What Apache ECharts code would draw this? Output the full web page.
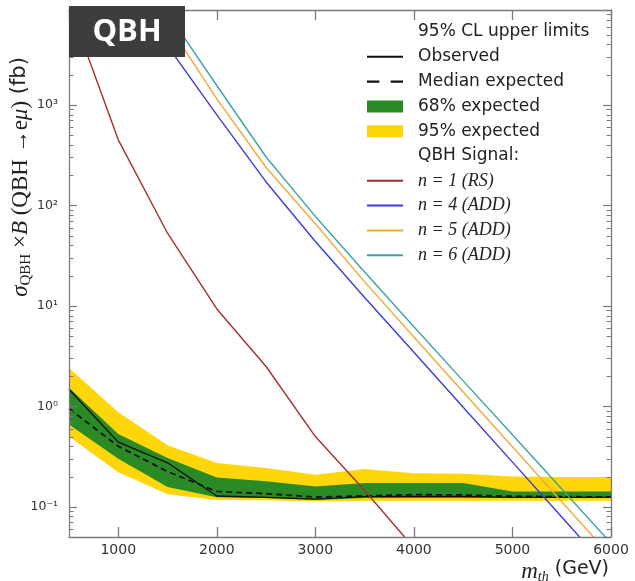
<!DOCTYPE html>
<html><head><meta charset="utf-8">
<script src="https://cdn.jsdelivr.net/npm/echarts@6/dist/echarts.min.js"></script>
<style>html,body{margin:0;padding:0;background:#fff}#c{width:635px;height:581px}</style>
</head><body><div id="c"></div>
<script>
// ---------- data ----------
const massPoints = [500, 1000, 1500, 2000, 2500, 3000, 3500, 4000, 4500, 5000, 5500, 6000];
const observed   = [1.48, 0.44, 0.274, 0.128, 0.124, 0.119, 0.126, 0.127, 0.127, 0.124, 0.124, 0.124];
const medianExp  = [0.95, 0.40, 0.224, 0.142, 0.135, 0.125, 0.128, 0.132, 0.131, 0.127, 0.126, 0.125];
const band68Lo   = [0.66, 0.30, 0.157, 0.124, 0.122, 0.117, 0.122, 0.122, 0.122, 0.122, 0.122, 0.122];
const band68Hi   = [1.53, 0.53, 0.305, 0.196, 0.179, 0.159, 0.172, 0.172, 0.172, 0.142, 0.142, 0.142];
const band95Lo   = [0.50, 0.22, 0.133, 0.117, 0.116, 0.113, 0.115, 0.115, 0.115, 0.115, 0.115, 0.115];
const band95Hi   = [2.40, 0.87, 0.41, 0.272, 0.243, 0.208, 0.237, 0.216, 0.213, 0.200, 0.198, 0.198];
const sigRS1     = [1.0e4, 449, 52.8, 9.3, 2.49, 0.50, 0.145, 0.039, 0.010, null, null, null];
const sigADD4    = [1.3e5, 2.2e4, 3870, 795, 171, 43.7, 12.1, 3.45, 0.98, 0.278, 0.079, 0.0224];
const sigADD5    = [2.5e5, 4.0e4, 6450, 1150, 238, 65.5, 17.3, 4.9, 1.39, 0.395, 0.112, 0.032];
const sigADD6    = [4.0e5, 6.0e4, 8200, 1560, 303, 77.6, 21.7, 6.2, 1.79, 0.52, 0.15, 0.0434];
const minorTickValues = [0.06, 0.07, 0.08, 0.09,
  0.2, 0.3, 0.4, 0.5, 0.6, 0.7, 0.8, 0.9,
  2, 3, 4, 5, 6, 7, 8, 9,
  20, 30, 40, 50, 60, 70, 80, 90,
  200, 300, 400, 500, 600, 700, 800, 900,
  2000, 3000, 4000, 5000, 6000, 7000, 8000];

// ---------- config ----------
const X_MIN = 500, X_MAX = 6000, Y_MIN = 0.05, Y_MAX = 8800;
const AXIS_COLOR = '#7a7a7a';
const C_RS = '#a3302e', C_A4 = '#3c3cd8', C_A5 = '#f3a93a', C_A6 = '#3ca4a2';
const C_G = '#2a8a26', C_Y = '#ffd60a';
const LINE_ICON = 'path://M0,0H36V2H0Z';
const DASH_ICON = 'path://M0,0H12V2H0ZM23,0H35V2H23Z';
const supMap = {'-':'\u207B','0':'\u2070','1':'\u00B9','2':'\u00B2','3':'\u00B3','4':'\u2074'};

const pair = arr => massPoints.map((x, i) => arr[i] == null ? null : [x, arr[i]]).filter(Boolean);

function bandRenderer(lo, hi, color) {
  return function (params, api) {
    const pts = [];
    massPoints.forEach((x, i) => pts.push(api.coord([x, hi[i]])));
    for (let i = massPoints.length - 1; i >= 0; i--) pts.push(api.coord([massPoints[i], lo[i]]));
    return {type: 'polygon', shape: {points: pts}, style: {fill: color}};
  };
}

function minorTickRenderer(params, api) {
  const children = [];
  minorTickValues.forEach(v => {
    const pL = api.coord([X_MIN, v]);
    const pR = api.coord([X_MAX, v]);
    const yy = Math.round(pL[1]) + 0.5;
    children.push({type: 'line', shape: {x1: pL[0], y1: yy, x2: pL[0] + 4.5, y2: yy},
      style: {stroke: AXIS_COLOR, lineWidth: 1}});
    children.push({type: 'line', shape: {x1: pR[0] - 4.5, y1: yy, x2: pR[0], y2: yy},
      style: {stroke: AXIS_COLOR, lineWidth: 1}});
  });
  return {type: 'group', children: children};
}

const mathText = {fontFamily: 'Liberation Serif', fontStyle: 'italic', fontSize: 18, color: '#222'};

const xAxisBase = {
  type: 'value', min: X_MIN, max: X_MAX, splitNumber: 5, z: 5,
  axisLine: {show: true, lineStyle: {color: AXIS_COLOR, width: 1.3}},
  axisTick: {show: true, inside: true, length: 10, lineStyle: {color: AXIS_COLOR, width: 1.3}},
  splitLine: {show: false}, minorTick: {show: false}
};
const yAxisBase = {
  type: 'log', logBase: 10, min: Y_MIN, max: Y_MAX, z: 5,
  axisLine: {show: true, lineStyle: {color: AXIS_COLOR, width: 1.3}},
  axisTick: {show: true, inside: true, length: 8, lineStyle: {color: AXIS_COLOR, width: 1.2}},
  splitLine: {show: false}, minorTick: {show: false}
};

const option = {
  animation: false,
  backgroundColor: '#fff',
  grid: {left: 69, right: 24, top: 10, bottom: 44, containLabel: false},
  xAxis: [
    Object.assign({}, xAxisBase, {position: 'bottom',
      axisLabel: {showMinLabel: false, color: '#333', fontFamily: 'DejaVu Sans', fontSize: 14, margin: 6,
        formatter: v => String(Math.round(v))}}),
    Object.assign({}, xAxisBase, {position: 'top', axisLabel: {show: false}})
  ],
  yAxis: [
    Object.assign({}, yAxisBase, {position: 'left',
      axisLabel: {showMinLabel: false, showMaxLabel: false, color: '#333', fontFamily: 'DejaVu Sans', fontSize: 12.5, margin: 11,
        formatter: v => {
          const e = Math.round(Math.log10(v));
          return '10' + String(e).split('').map(c => supMap[c]).join('');
        }}}),
    Object.assign({}, yAxisBase, {position: 'right', axisLabel: {show: false}})
  ],
  legend: {
    orient: 'vertical', left: 367, top: 22, padding: 0, itemGap: 4.8,
    itemWidth: 36, itemHeight: 12, selectedMode: false,
    itemStyle: {borderWidth: 0},
    textStyle: {fontFamily: 'DejaVu Sans', fontSize: 17, color: '#222', lineHeight: 20, padding: [0, 0, 0, 10]},
    data: [
      {name: '95% CL upper limits', icon: 'rect'},
      {name: 'Observed', icon: LINE_ICON},
      {name: 'Median expected', icon: DASH_ICON},
      {name: '68% expected', icon: 'rect'},
      {name: '95% expected', icon: 'rect'},
      {name: 'QBH Signal:', icon: 'rect'},
      {name: 'n = 1 (RS)', icon: LINE_ICON, textStyle: mathText},
      {name: 'n = 4 (ADD)', icon: LINE_ICON, textStyle: mathText},
      {name: 'n = 5 (ADD)', icon: LINE_ICON, textStyle: mathText},
      {name: 'n = 6 (ADD)', icon: LINE_ICON, textStyle: mathText}
    ]
  },
  series: [
    {name: '95% CL upper limits', type: 'line', data: [], symbol: 'none', color: 'rgba(0,0,0,0)'},
    {name: 'QBH Signal:', type: 'line', data: [], symbol: 'none', color: 'rgba(0,0,0,0)'},
    {name: '95% expected', type: 'custom', color: C_Y, silent: true, z: 1,
      renderItem: bandRenderer(band95Lo, band95Hi, C_Y), data: [[X_MIN, 1]]},
    {name: '68% expected', type: 'custom', color: C_G, silent: true, z: 1,
      renderItem: bandRenderer(band68Lo, band68Hi, C_G), data: [[X_MIN, 1]]},
    {name: 'Median expected', type: 'line', data: pair(medianExp), symbol: 'none', color: '#111',
      lineStyle: {width: 1.8, type: [6, 4]}, z: 3},
    {name: 'Observed', type: 'line', data: pair(observed), symbol: 'none', color: '#111',
      lineStyle: {width: 1.4}, z: 3},
    {name: 'n = 1 (RS)', type: 'line', data: pair(sigRS1), symbol: 'none', color: C_RS, lineStyle: {width: 1.4}, z: 4},
    {name: 'n = 4 (ADD)', type: 'line', data: pair(sigADD4), symbol: 'none', color: C_A4, lineStyle: {width: 1.4}, z: 4},
    {name: 'n = 5 (ADD)', type: 'line', data: pair(sigADD5), symbol: 'none', color: C_A5, lineStyle: {width: 1.4}, z: 4},
    {name: 'n = 6 (ADD)', type: 'line', data: pair(sigADD6), symbol: 'none', color: C_A6, lineStyle: {width: 1.4}, z: 4},
    {name: 'minorTicks', type: 'custom', silent: true, z: 6, data: [[X_MIN, 1]], renderItem: minorTickRenderer}
  ],
  graphic: [
    {type: 'rect', z: 100, shape: {x: 69, y: 6, width: 116, height: 51}, style: {fill: '#3d3d3d'}},
    {type: 'text', z: 101, x: 127, y: 32,
      style: {text: 'QBH', fill: '#fff', font: 'bold 31px "Open Sans"', align: 'center', verticalAlign: 'middle'}},
    {type: 'text', z: 10, x: 20, y: 177, rotation: Math.PI / 2,
      style: {
        text: '{s|σ}{sub|QBH}{m| ×}{s|B}{m| (QBH →e}{s|μ}{m|)}{f| (fb)}',
        align: 'center', verticalAlign: 'middle', fill: '#222',
        rich: {
          s: {fontFamily: 'Liberation Serif', fontStyle: 'italic', fontSize: 23, lineHeight: 22, verticalAlign: 'top', fill: '#222'},
          m: {fontFamily: 'Liberation Serif', fontSize: 23, lineHeight: 22, verticalAlign: 'top', fill: '#222'},
          sub: {fontFamily: 'Liberation Serif', fontSize: 15, lineHeight: 15, padding: [12, 0, 0, 0], fill: '#222'},
          f: {fontFamily: 'DejaVu Sans', fontSize: 21, lineHeight: 22, verticalAlign: 'top', fill: '#222'}
        }
      }},
    {type: 'text', z: 10, x: 609, y: 571,
      style: {
        text: '{mi|m}{sub|th}{f| (GeV)}',
        align: 'right', verticalAlign: 'middle', fill: '#222',
        rich: {
          mi: {fontFamily: 'Liberation Serif', fontStyle: 'italic', fontSize: 23, lineHeight: 22, verticalAlign: 'top', fill: '#222'},
          sub: {fontFamily: 'Liberation Serif', fontStyle: 'italic', fontSize: 14, lineHeight: 14, padding: [12, 0, 0, 0], fill: '#222'},
          f: {fontFamily: 'DejaVu Sans', fontSize: 19, lineHeight: 22, verticalAlign: 'top', fill: '#222'}
        }
      }}
  ]
};

const chart = echarts.init(document.getElementById('c'));
chart.setOption(option);
</script>
</body></html>
